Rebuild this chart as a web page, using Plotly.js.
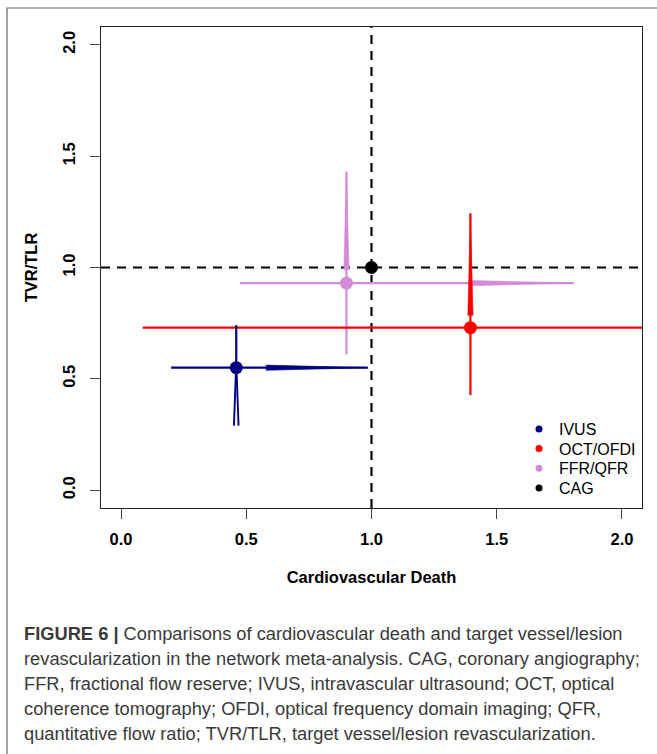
<!DOCTYPE html>
<html>
<head>
<meta charset="utf-8">
<script src="https://cdn.plot.ly/plotly-3.0.1.min.js"></script>
<style>
html,body{margin:0;padding:0;background:#fff;}
#chart{width:657px;height:754px;}
</style>
</head>
<body>
<div id="chart"></div>
<script>
// ---- data ----
const groups = ["IVUS", "OCT/OFDI", "FFR/QFR", "CAG"];
const colors = ["#000080", "#FF0000", "#D48AD6", "#000000"];
const cvdEst = [0.46, 1.395, 0.90, 1.00];      // Cardiovascular death (x)
const tvrEst = [0.55, 0.73, 0.93, 1.00];       // TVR/TLR (y)
const cvdLo  = [0.20, 0.087, 0.475, null];
const cvdHi  = [0.985, 2.40, 1.807, null];
const tvrLo  = [0.29, 0.427, 0.61, null];
const tvrHi  = [0.741, 1.243, 1.43, null];
const cvdWedgeStart = [0.58, null, 1.395, null];   // tapered section of x interval
const tvrWedgeStart = [null, 0.786, 0.99, null];   // tapered section of y interval
const splitLower = [true, false, false, false];    // IVUS lower y interval drawn doubled
const refX = 1.0, refY = 1.0;
const tickVals = [0, 0.5, 1.0, 1.5, 2.0];
const axisRange = [-0.08, 2.08];

// ---- layout geometry ----
const W = 657, H = 754;
const M = {l: 101, r: 15, t: 27, b: 246};
const plotW = W - M.l - M.r, plotH = H - M.t - M.b;
const span = axisRange[1] - axisRange[0];
const pxX = plotW / span, pxY = plotH / span;
const px2paperX = p => (p - M.l) / plotW;
const px2paperY = p => (H - M.b - p) / plotH;

const traces = [];
const ciW = 2.2;
const wedgeHalf = 2.6; // px

function line(xs, ys, color, w) {
  traces.push({x: xs, y: ys, mode: "lines", line: {color: color, width: w},
    hoverinfo: "skip", showlegend: false});
}
function poly(xs, ys, color) {
  traces.push({x: xs, y: ys, mode: "lines", fill: "toself", fillcolor: color,
    line: {color: color, width: 0.6}, hoverinfo: "skip", showlegend: false});
}

const order = [2, 1, 0, 3];
order.forEach(i => {
  const c = colors[i];
  if (cvdLo[i] !== null) {
    line([cvdLo[i], cvdHi[i]], [tvrEst[i], tvrEst[i]], c, ciW);
    if (cvdWedgeStart[i] !== null) {
      const h = wedgeHalf / pxY;
      poly([cvdWedgeStart[i], cvdWedgeStart[i], cvdHi[i], cvdWedgeStart[i]],
           [tvrEst[i] - h, tvrEst[i] + h, tvrEst[i], tvrEst[i] - h], c);
    }
  }
  if (tvrLo[i] !== null) {
    line([cvdEst[i], cvdEst[i]], [tvrEst[i], tvrHi[i]], c, ciW);
    if (splitLower[i]) {
      const d0 = 0.2 / pxX, d1 = 2.3 / pxX;
      line([cvdEst[i] - d0, cvdEst[i] - d1], [tvrEst[i], tvrLo[i]], c, 1.9);
      line([cvdEst[i] + d0, cvdEst[i] + d1], [tvrEst[i], tvrLo[i]], c, 1.9);
    } else {
      line([cvdEst[i], cvdEst[i]], [tvrLo[i], tvrEst[i]], c, ciW);
    }
    if (tvrWedgeStart[i] !== null) {
      const h = wedgeHalf / pxX;
      poly([cvdEst[i] - h, cvdEst[i] + h, cvdEst[i], cvdEst[i] - h],
           [tvrWedgeStart[i], tvrWedgeStart[i], tvrHi[i], tvrWedgeStart[i]], c);
    }
  }
});
// point estimates
order.forEach(i => {
  traces.push({x: [cvdEst[i]], y: [tvrEst[i]], mode: "markers", name: groups[i],
    marker: {color: colors[i], size: 13, line: {width: 0}}, showlegend: false,
    hoverinfo: "x+y+name"});
});
// legend entries: one legend box per group so the row spacing can match
const legendNames = ["legend", "legend2", "legend3", "legend4"];
const legendRowY = [429, 448.7, 468.3, 488];
groups.forEach((g, i) => {
  traces.push({x: [null], y: [null], mode: "markers", name: g, legend: legendNames[i],
    marker: {color: colors[i], size: 7}, showlegend: true});
});

const captionLines = [
  "<b>FIGURE 6 |</b> Comparisons of cardiovascular death and target vessel/lesion",
  "revascularization in the network meta-analysis. CAG, coronary angiography;",
  "FFR, fractional flow reserve; IVUS, intravascular ultrasound; OCT, optical",
  "coherence tomography; OFDI, optical frequency domain imaging; QFR,",
  "quantitative flow ratio; TVR/TLR, target vessel/lesion revascularization."
];
const captionY = [633, 658, 683, 708, 733];

const annotations = captionLines.map((t, k) => ({
  text: t, xref: "paper", yref: "paper", x: px2paperX(22), y: px2paperY(captionY[k]),
  xanchor: "left", yanchor: "middle", showarrow: false, align: "left",
  font: {family: "Liberation Sans, Arial, sans-serif", size: 18.3, color: "#3a3a3a"}
}));

const axisCommon = {
  range: axisRange, tickvals: tickVals, tickformat: ".1f",
  showgrid: false, zeroline: false, showline: true, mirror: true,
  linecolor: "#222", linewidth: 1, ticks: "outside", ticklen: 10,
  tickcolor: "#444", tickwidth: 1,
  tickfont: {family: "Liberation Sans, Arial, sans-serif", size: 16.5, color: "#000", weight: 700}
};

const layout = {
  width: W, height: H, margin: M, paper_bgcolor: "#fff", plot_bgcolor: "#fff",
  showlegend: true,
  xaxis: Object.assign({}, axisCommon, {
    ticklabelstandoff: 6,
    title: {text: "Cardiovascular Death", standoff: 24,
      font: {family: "Liberation Sans, Arial, sans-serif", size: 16.5, color: "#000", weight: 700}}
  }),
  yaxis: Object.assign({}, axisCommon, {
    tickangle: -90, ticklabelstandoff: 8,
    title: {text: "TVR/TLR", standoff: 18,
      font: {family: "Liberation Sans, Arial, sans-serif", size: 16.5, color: "#000", weight: 700}}
  }),
  shapes: [
    {type: "line", xref: "x", yref: "paper", x0: refX, x1: refX, y0: 0, y1: 1,
     line: {color: "#000", width: 2.2, dash: "9px,7px"}, layer: "below"},
    {type: "line", xref: "paper", yref: "y", x0: 0, x1: 1, y0: refY, y1: refY,
     line: {color: "#000", width: 2.2, dash: "9px,7px"}, layer: "below"},
    {type: "rect", xref: "paper", yref: "paper",
     x0: px2paperX(7), x1: px2paperX(700), y0: px2paperY(800), y1: px2paperY(8),
     line: {color: "#666", width: 1.2}, fillcolor: "rgba(0,0,0,0)", layer: "above"}
  ],
  annotations: annotations
};
legendNames.forEach((ln, i) => {
  layout[ln] = {x: px2paperX(519), y: px2paperY(legendRowY[i] - 17), xanchor: "left", yanchor: "top",
    bgcolor: "rgba(0,0,0,0)", borderwidth: 0,
    font: {family: "Liberation Sans, Arial, sans-serif", size: 16, color: "#000"}};
});

Plotly.newPlot("chart", traces, layout, {displayModeBar: false, staticPlot: true});
</script>
</body>
</html>
